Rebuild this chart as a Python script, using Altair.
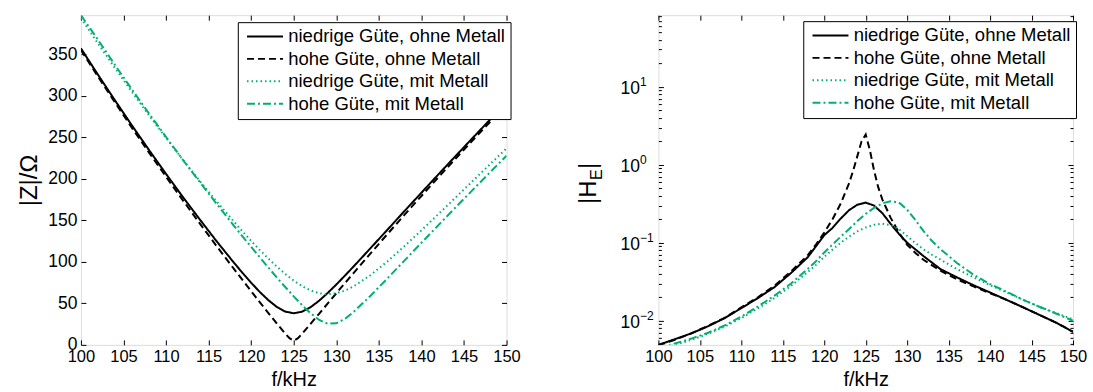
import altair as alt
import pandas as pd

FONT = "Liberation Sans"

series = ["niedrige Güte, ohne Metall", "hohe Güte, ohne Metall",
          "niedrige Güte, mit Metall", "hohe Güte, mit Metall"]
line_colors = ["#000000", "#000000", "#00B070", "#00B070"]
line_dashes = [[1, 0], [7, 4], [1.5, 3], [8, 3, 2, 3]]
line_widths = [2.0, 2.0, 1.2, 2.0]

x_ticks = [100, 105, 110, 115, 120, 125, 130, 135, 140, 145, 150]
z_ticks = [0, 50, 100, 150, 200, 250, 300, 350]
h_ticks = [0.01, 0.1, 1, 10]
h_exponents = ["\u22122", "\u22121", "0", "1"]
h_minor = [0.005, 0.006, 0.007, 0.008, 0.009,
           0.02, 0.03, 0.04, 0.05, 0.06, 0.07, 0.08, 0.09,
           0.2, 0.3, 0.4, 0.5, 0.6, 0.7, 0.8, 0.9,
           2, 3, 4, 5, 6, 7, 8, 9, 20, 30, 40, 50, 60, 70, 80]

# ---------- |Z| (left panel) ----------
f_z = [100, 102, 104, 106, 108, 110, 112, 114, 116, 118, 119, 120, 121, 122, 123, 124, 125,
       126, 127, 128, 129, 130, 131, 132, 134, 136, 138, 140, 142, 144, 146, 148, 150]
z_low = [357.0, 325.3, 294.4, 264.1, 234.6, 205.8, 177.7, 150.5, 124.0, 98.6, 86.5, 74.8, 63.8,
         54.0, 45.8, 40.1, 38.0, 40.0, 45.5, 53.3, 62.6, 72.6, 83.2, 94.0, 116.2, 138.5, 161.0,
         183.2, 205.3, 227.2, 248.9, 270.5, 291.8]
f_z_high = [100, 102, 104, 106, 108, 110, 112, 114, 116, 118, 119, 120, 121, 122, 123, 124, 124.5,
            125, 125.5, 126, 127, 128, 129, 130, 131, 132, 134, 136, 138, 140, 142, 144, 146, 148, 150]
z_high = [355.0, 323.1, 291.9, 261.3, 231.5, 202.3, 173.7, 145.7, 118.1, 91.1, 77.9, 64.6, 51.5,
          38.6, 25.9, 13.6, 8.0, 5.0, 8.0, 13.5, 25.6, 37.7, 50.0, 62.1, 74.2, 86.1, 109.9, 133.3,
          156.5, 179.3, 201.9, 224.1, 246.1, 267.8, 289.3]
z_low_metal = [393.5, 362.9, 333.4, 304.5, 276.5, 249.1, 222.6, 196.9, 172.0, 148.1, 136.4, 125.2,
               114.3, 104.1, 94.3, 85.4, 77.4, 70.6, 65.4, 62.1, 61.0, 62.1, 65.3, 70.2, 83.8, 100.4,
               118.8, 137.9, 157.5, 177.2, 197.1, 216.9, 236.6]
z_high_metal = [397.0, 367.4, 337.0, 307.4, 278.5, 250.3, 222.5, 195.5, 169.1, 143.1, 130.4, 117.9,
                105.5, 93.3, 81.3, 69.7, 58.4, 47.7, 38.0, 30.0, 25.4, 26.0, 31.2, 39.4, 58.9, 79.9,
                101.4, 122.9, 144.2, 165.4, 186.3, 207.1, 227.7]

# ---------- |H_E| (right panel) ----------
f_h = [100, 102, 104, 106, 108, 110, 112, 114, 116, 118, 119, 120, 121, 122, 123, 124, 125,
       126, 127, 128, 129, 130, 131, 132, 134, 136, 138, 140, 142, 144, 146, 148, 150]
h_low = [0.0049, 0.0058, 0.0069, 0.0085, 0.0108, 0.0145, 0.0195, 0.027, 0.041, 0.065, 0.090,
         0.125, 0.155, 0.205, 0.262, 0.308, 0.327, 0.300, 0.240, 0.175, 0.130, 0.100, 0.082,
         0.067, 0.046, 0.036, 0.0285, 0.023, 0.0185, 0.0148, 0.0118, 0.0094, 0.0072]
f_h_high = [100, 102, 104, 106, 108, 110, 112, 114, 116, 118, 119, 120, 121, 122, 123, 123.5,
            124, 124.5, 125, 125.5, 126, 126.5, 127, 128, 129, 130, 131, 132, 134, 136, 138, 140,
            142, 144, 146, 148, 150]
h_high = [0.0048, 0.0057, 0.0069, 0.0086, 0.0109, 0.0148, 0.0200, 0.028, 0.043, 0.069, 0.095,
          0.135, 0.200, 0.320, 0.580, 0.850, 1.30, 2.00, 2.45, 1.55, 0.85, 0.52, 0.36, 0.21,
          0.135, 0.094, 0.074, 0.060, 0.044, 0.034, 0.0275, 0.0225, 0.0185, 0.0148, 0.0118,
          0.0094, 0.0072]
f_h_metal = [100, 102, 104, 106, 108, 110, 112, 114, 116, 118, 119, 120, 121, 122, 123, 124, 125,
             126, 127, 128, 129, 130, 131, 132, 133, 134, 136, 138, 140, 142, 144, 146, 148, 150]
h_low_metal = [0.0043, 0.0049, 0.0057, 0.0068, 0.0084, 0.0108, 0.0144, 0.0195, 0.028, 0.042,
               0.052, 0.066, 0.082, 0.100, 0.120, 0.140, 0.157, 0.170, 0.175, 0.168, 0.150, 0.122,
               0.099, 0.082, 0.070, 0.061, 0.046, 0.036, 0.0285, 0.023, 0.0185, 0.015, 0.0125, 0.0104]
h_high_metal = [0.0044, 0.0051, 0.0059, 0.0070, 0.0087, 0.0113, 0.0152, 0.021, 0.030, 0.046,
                0.058, 0.075, 0.095, 0.120, 0.150, 0.190, 0.235, 0.280, 0.320, 0.340, 0.330,
                0.265, 0.195, 0.140, 0.105, 0.083, 0.055, 0.039, 0.0295, 0.0235, 0.0185, 0.015,
                0.0123, 0.0100]


def long(parts):
    rows = []
    for k, (fs, vs) in enumerate(parts):
        for f, v in zip(fs, vs):
            rows.append({"f": f, "v": v, "s": series[k]})
    return pd.DataFrame(rows)


df_z = long([(f_z, z_low), (f_z_high, z_high), (f_z, z_low_metal), (f_z, z_high_metal)])
df_h = long([(f_h, h_low), (f_h_high, h_high), (f_h_metal, h_low_metal), (f_h_metal, h_high_metal)])

W1, W2, H = 426, 415, 330
TICK = 5


def legend(lx, ly):
    return alt.Legend(title=None, orient="none", legendX=lx, legendY=ly,
                      symbolType="M-4,0H4", symbolSize=81, symbolOffset=13,
                      labelFontSize=18.5, labelFont=FONT, labelColor="black",
                      labelLimit=500, labelOffset=14, strokeColor="black",
                      fillColor="white", padding=5, rowPadding=3.5, cornerRadius=0)


def enc_series(lg):
    return dict(
        color=alt.Color("s:N", scale=alt.Scale(domain=series, range=line_colors), legend=lg),
        strokeDash=alt.StrokeDash("s:N", scale=alt.Scale(domain=series, range=line_dashes), legend=lg),
        strokeWidth=alt.StrokeWidth("s:N", scale=alt.Scale(domain=series, range=line_widths), legend=lg),
    )


def tick_axis(orient, offset, values, size=TICK):
    return alt.Axis(orient=orient, offset=offset, values=values, labels=False, domain=False,
                    ticks=True, tickSize=size, tickColor="black", tickWidth=1, grid=False, title=None)


def ghost(df):
    # invisible marks that only carry the extra (inward) tick axes
    return alt.Chart(df).mark_point(opacity=0, size=0, clip=True)


x_scale = alt.Scale(domain=[100, 150], nice=False, zero=False)

x_main = alt.Axis(orient="bottom", values=x_ticks, title="f/kHz", titleFont=FONT, titleFontSize=20,
                  titleFontWeight="normal", titleColor="black", titlePadding=4,
                  labelFont=FONT, labelFontSize=16.5, labelColor="black", labelPadding=4,
                  ticks=False, tickSize=0, domain=False, grid=False, labelFlush=False,
                  labelOverlap=False)

# ---------------- left panel ----------------
z_scale = alt.Scale(domain=[0, 397], nice=False, zero=False)
z_main = alt.Axis(orient="left", values=z_ticks, title="|Z|/\u03a9", titleFont=FONT, titleFontSize=24,
                  titleFontWeight="normal", titleColor="black", titlePadding=6,
                  labelFont=FONT, labelFontSize=17.5, labelColor="black", labelPadding=4,
                  ticks=False, tickSize=0, domain=False, grid=False, labelFlush=False,
                  labelOverlap=False)

zl_lines = alt.Chart(df_z).mark_line(clip=True).encode(
    x=alt.X("f:Q", scale=x_scale, axis=x_main),
    y=alt.Y("v:Q", scale=z_scale, axis=z_main),
    **enc_series(legend(157, 7)),
)
zl_t1 = ghost(df_z).encode(
    x=alt.X("f:Q", scale=x_scale, axis=tick_axis("top", -H, x_ticks)),
    y=alt.Y("v:Q", scale=z_scale, axis=tick_axis("right", -W1, z_ticks)),
)
zl_t2 = ghost(df_z).encode(
    x=alt.X("f:Q", scale=x_scale, axis=tick_axis("bottom", -H, x_ticks)),
    y=alt.Y("v:Q", scale=z_scale, axis=tick_axis("left", -W1, z_ticks)),
)
left = alt.layer(zl_lines, zl_t1, zl_t2).resolve_axis(x="independent", y="independent").properties(
    width=W1, height=H)

# ---------------- right panel ----------------
h_scale = alt.Scale(type="log", domain=[0.0049, 83], nice=False)
h_main = alt.Axis(orient="left", values=h_ticks, title=None, labelExpr="'10'",
                  labelFont=FONT, labelFontSize=17.5, labelColor="black", labelPadding=19,
                  labelOffset=2, ticks=False, tickSize=0, domain=False, grid=False,
                  labelFlush=False, labelOverlap=False)
exp_expr = ("datum.value > 5 ? '%s' : datum.value > 0.5 ? '%s' : datum.value > 0.05 ? '%s' : '%s'"
            % (h_exponents[3], h_exponents[2], h_exponents[1], h_exponents[0]))
h_exp = alt.Axis(orient="left", values=h_ticks, title=None, labelExpr=exp_expr,
                 labelFont=FONT, labelFontSize=12, labelColor="black", labelPadding=19,
                 labelAlign="left", labelOffset=-5, ticks=False, tickSize=0, domain=False,
                 grid=False, labelFlush=False, labelOverlap=False)

hr_lines = alt.Chart(df_h).mark_line(clip=True).encode(
    x=alt.X("f:Q", scale=x_scale, axis=x_main),
    y=alt.Y("v:Q", scale=h_scale, axis=h_main),
    **enc_series(legend(145, 6)),
)
hr_t1 = ghost(df_h).encode(
    x=alt.X("f:Q", scale=x_scale, axis=tick_axis("top", -H, x_ticks)),
    y=alt.Y("v:Q", scale=h_scale, axis=tick_axis("right", -W2, h_ticks)),
)
hr_t2 = ghost(df_h).encode(
    x=alt.X("f:Q", scale=x_scale, axis=tick_axis("bottom", -H, x_ticks)),
    y=alt.Y("v:Q", scale=h_scale, axis=tick_axis("left", -W2, h_ticks)),
)
hr_t3 = ghost(df_h).encode(
    x=alt.X("f:Q", scale=x_scale, axis=None),
    y=alt.Y("v:Q", scale=h_scale, axis=tick_axis("right", -W2, h_minor, 3)),
)
hr_t4 = ghost(df_h).encode(
    x=alt.X("f:Q", scale=x_scale, axis=None),
    y=alt.Y("v:Q", scale=h_scale, axis=tick_axis("left", -W2, h_minor, 3)),
)
hr_t5 = ghost(df_h).encode(
    x=alt.X("f:Q", scale=x_scale, axis=None),
    y=alt.Y("v:Q", scale=h_scale, axis=h_exp),
)

title_parts = [("|H", 24, -62, 189), ("E", 16, -56, 165), ("|", 24, -62, 154)]
title_layers = []
for txt, fs, px, py in title_parts:
    title_layers.append(
        alt.Chart(pd.DataFrame({"t": [txt]})).mark_text(
            angle=270, align="left", baseline="alphabetic", font=FONT, fontSize=fs, color="black"
        ).encode(text="t:N", x=alt.value(px), y=alt.value(py))
    )

right = alt.layer(hr_lines, hr_t1, hr_t2, hr_t3, hr_t4, hr_t5, *title_layers).resolve_axis(
    x="independent", y="independent").properties(width=W2, height=H)

chart = alt.hconcat(left, right, spacing=152, bounds="flush").resolve_scale(
    color="independent", strokeDash="independent", strokeWidth="independent"
).properties(
    padding={"left": 17, "top": 14, "right": 5, "bottom": 0}
).configure_view(stroke="black", strokeWidth=1).configure(background="white")

chart.save("out.html", embed_options={"renderer": "svg", "actions": False})
